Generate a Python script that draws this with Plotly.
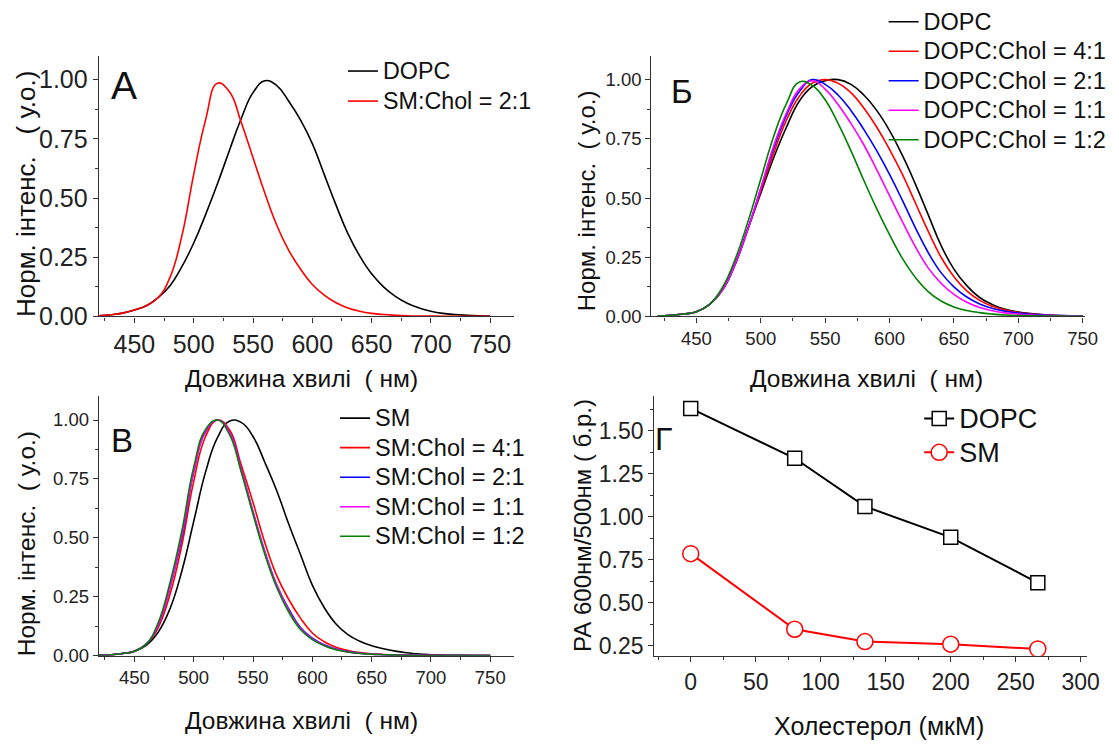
import plotly.graph_objects as go

W, H = 1119, 746
FONT = "Liberation Sans, Arial, sans-serif"

# ---------------- data ----------------
wl = [420, 430, 440, 450, 460, 470, 480, 490, 500, 510, 520, 530, 540, 550, 560, 570, 580,
      590, 600, 610, 620, 630, 640, 650, 660, 670, 680, 690, 700, 710, 720, 730, 740, 750]

# Panel A
a_dopc = [.003, .007, .014, .027, .045, .08, .13, .21, .31, .43, .56, .70, .835, .945, .995, .975,
          .91, .83, .73, .60, .47, .35, .255, .18, .125, .085, .056, .036, .022, .013, .008, .005, .003, .002]
a_sm21 = [.003, .007, .014, .027, .045, .08, .165, .34, .60, .83, .985, .95, .82, .67, .52, .385,
          .28, .20, .135, .09, .058, .036, .022, .013, .008, .005, .003, .002, .002, .001, .001, .001, .001, .001]

# Panel Б
b_dopc = [.002, .005, .01, .02, .05, .11, .22, .37, .52, .67, .80, .91, .97, .995, 1.0, .98,
          .935, .87, .785, .68, .56, .43, .30, .20, .13, .08, .05, .03, .019, .012, .007, .004, .003, .002]
b_41 = [.002, .005, .01, .02, .05, .11, .22, .37, .53, .69, .83, .93, .985, 1.0, .985, .945,
        .88, .80, .705, .60, .48, .36, .25, .168, .108, .068, .043, .027, .017, .011, .007, .004, .003, .002]
b_21 = [.002, .005, .01, .02, .05, .11, .22, .37, .54, .71, .85, .95, 1.0, .98, .935, .87,
        .79, .70, .60, .49, .375, .27, .185, .125, .082, .053, .034, .022, .014, .009, .006, .004, .003, .002]
b_11 = [.002, .005, .01, .02, .05, .11, .22, .37, .54, .72, .86, .96, .995, .96, .895, .815,
        .725, .62, .51, .40, .295, .205, .14, .093, .06, .038, .024, .015, .01, .006, .004, .003, .002, .001]
b_12 = [.002, .005, .01, .02, .05, .12, .24, .40, .58, .76, .90, .99, .975, .915, .815, .70,
        .575, .455, .345, .245, .165, .105, .065, .04, .025, .016, .01, .006, .004, .003, .002, .002, .001, .001]

# Panel В
v_sm = [.002, .005, .01, .02, .045, .10, .20, .36, .57, .78, .925, .995, .99, .93, .82, .70,
        .56, .43, .30, .205, .135, .09, .062, .043, .03, .02, .013, .008, .005, .003, .002, .002, .001, .001]
v_41 = [.002, .005, .01, .02, .05, .12, .26, .47, .74, .93, 1.0, .96, .81, .65, .48, .34,
        .24, .16, .097, .06, .037, .023, .014, .009, .006, .004, .003, .002, .002, .001, .001, .001, .001, .001]
v_21 = [.002, .005, .01, .02, .05, .13, .29, .50, .78, .95, 1.0, .95, .79, .61, .44, .30,
        .20, .12, .075, .047, .029, .018, .011, .007, .005, .003, .002, .002, .001, .001, .001, .001, .001, .001]
v_11 = [.002, .005, .01, .02, .05, .13, .29, .51, .78, .95, 1.0, .95, .79, .61, .44, .30,
        .195, .117, .072, .045, .028, .017, .011, .007, .005, .003, .002, .002, .001, .001, .001, .001, .001, .001]
v_12 = [.002, .005, .01, .02, .05, .14, .31, .53, .80, .96, 1.0, .94, .78, .60, .43, .29,
        .187, .112, .069, .043, .026, .016, .01, .007, .005, .003, .002, .002, .001, .001, .001, .001, .001, .001]

# Panel Г
chol = [0, 80, 134, 200, 267]
g_dopc = [1.63, 1.34, 1.06, 0.88, 0.615]
g_sm = [0.785, 0.345, 0.273, 0.258, 0.23]

# ---------------- helpers ----------------
def px_x(p):
    return p / W

def px_y(p):
    return 1 - p / H

fig = go.Figure()
RED, BLUE, MAG, GRN = "#ff0000", "#0000ff", "#ff00ff", "#008000"

def big(name, size):
    return '<span style="font-size:%spx">%s</span>' % (size, name)

def spec(x, y, color, name, xa, ya, leg, fs):
    fig.add_trace(go.Scatter(x=x, y=y, mode="lines", name=big(name, fs),
                             line=dict(color=color, width=1.6, shape="spline", smoothing=1.3),
                             xaxis=xa, yaxis=ya, legend=leg))

spec(wl, a_dopc, "black", "DOPC", "x", "y", "legend", 23.3)
spec(wl, a_sm21, RED, "SM:Chol = 2:1", "x", "y", "legend", 23.3)

spec(wl, b_dopc, "black", "DOPC", "x2", "y2", "legend2", 23.5)
spec(wl, b_41, RED, "DOPC:Chol = 4:1", "x2", "y2", "legend2", 23.5)
spec(wl, b_21, BLUE, "DOPC:Chol = 2:1", "x2", "y2", "legend2", 23.5)
spec(wl, b_11, MAG, "DOPC:Chol = 1:1", "x2", "y2", "legend2", 23.5)
spec(wl, b_12, GRN, "DOPC:Chol = 1:2", "x2", "y2", "legend2", 23.5)

spec(wl, v_sm, "black", "SM", "x3", "y3", "legend3", 23.5)
spec(wl, v_41, RED, "SM:Chol = 4:1", "x3", "y3", "legend3", 23.5)
spec(wl, v_21, BLUE, "SM:Chol = 2:1", "x3", "y3", "legend3", 23.5)
spec(wl, v_11, MAG, "SM:Chol = 1:1", "x3", "y3", "legend3", 23.5)
spec(wl, v_12, GRN, "SM:Chol = 1:2", "x3", "y3", "legend3", 23.5)

fig.add_trace(go.Scatter(x=chol, y=g_dopc, mode="lines+markers", name=big("DOPC", 27),
                         line=dict(color="black", width=2),
                         marker=dict(symbol="square", size=14, color="white", line=dict(color="black", width=1.5)),
                         xaxis="x4", yaxis="y4", legend="legend4"))
fig.add_trace(go.Scatter(x=chol, y=g_sm, mode="lines+markers", name=big("SM", 27),
                         line=dict(color=RED, width=2),
                         marker=dict(symbol="circle", size=16, color="white", line=dict(color=RED, width=1.5)),
                         xaxis="x4", yaxis="y4", legend="legend4"))

AXC = "#333333"

def xaxis(dom, rng, anchor, size, dtick, minor):
    return dict(domain=dom, range=rng, anchor=anchor, showline=True, linecolor=AXC, linewidth=1.3,
                ticks="outside", ticklen=5, tickwidth=1.2, tickcolor=AXC, dtick=dtick, tick0=0,
                showgrid=False, zeroline=False, tickfont=dict(size=size, color="#222", family=FONT),
                minor=dict(ticks="outside", ticklen=3, tickcolor=AXC, dtick=minor, tick0=0, showgrid=False))

def yaxis(dom, rng, anchor, size, tickvals):
    return dict(domain=dom, range=rng, anchor=anchor, showline=True, linecolor=AXC, linewidth=1.3,
                ticks="outside", ticklen=5, tickwidth=1.2, tickcolor=AXC, tickvals=tickvals, tickformat=".2f",
                showgrid=False, zeroline=False, tickfont=dict(size=size, color="#222", family=FONT),
                minor=dict(ticks="outside", ticklen=3, tickcolor=AXC, dtick=0.125, tick0=0, showgrid=False))

yt = [0, 0.25, 0.5, 0.75, 1.0]
gyt = [0.25, 0.5, 0.75, 1.0, 1.25, 1.5]

top_dom = [px_y(322.5), px_y(57)]
bot_dom = [px_y(668.4), px_y(404)]

fig.update_layout(
    width=W, height=H, margin=dict(l=0, r=0, t=0, b=0),
    paper_bgcolor="white", plot_bgcolor="white",
    font=dict(family=FONT, color="#111"),
    xaxis=xaxis([px_x(100), px_x(520)], [420, 770], "y", 25, 50, 25),
    yaxis=yaxis(top_dom, [0, 1.1], "x", 25, yt),
    xaxis2=xaxis([px_x(659), px_x(1098)], [415, 752], "y2", 18.5, 50, 25),
    yaxis2=yaxis(top_dom, [0, 1.1], "x2", 18.5, yt),
    xaxis3=xaxis([px_x(100), px_x(520)], [420, 770], "y3", 18.5, 50, 25),
    yaxis3=yaxis(bot_dom, [0, 1.1], "x3", 18.5, yt),
    xaxis4=xaxis([px_x(662), px_x(1100)], [-28, 305], "y4", 23, 50, 25),
    yaxis4=yaxis(bot_dom, [0.19, 1.70], "x4", 23, gyt),
    showlegend=True,
)

def leg(x, y, size):
    return dict(x=px_x(x), y=px_y(y), xanchor="left", yanchor="top", bgcolor="rgba(0,0,0,0)",
                font=dict(size=size, family=FONT, color="#111"), tracegroupgap=0, itemwidth=30)

fig.update_layout(legend=leg(347, 52, 20.8), legend2=leg(894, 2, 20.4), legend3=leg(339, 406, 20.4),
                  legend4=leg(930, 404, 23.8))

anns = [
    ("A", 125, 87, 39, 0), ("Б", 690, 93, 33, 0), ("В", 123, 449, 33, 0), ("Г", 671, 447, 32, 0),
    ("Довжина хвилі  ( нм)", 305, 386, 24.5, 0),
    ("Довжина хвилі  ( нм)", 877, 386, 24.5, 0),
    ("Довжина хвилі  ( нм)", 305, 734, 24.5, 0),
    ("Холестерол (мкМ)", 889, 740, 25, 0),
    ("Норм. інтенс.   ( у.о.)", 27, 198, 26, -90),
    ("Норм. інтенс.  ( у.о.)", 593, 205, 24, -90),
    ("Норм. інтенс.  ( у.о.)", 27, 554, 24.5, -90),
    ("РА 600нм/500нм ( б.р.)", 590, 536, 24, -90),
]
for t, x, y, s, ang in anns:
    fig.add_annotation(text=t, x=px_x(x), y=px_y(y), xref="paper", yref="paper", showarrow=False,
                       xanchor="center", yanchor="middle", textangle=ang,
                       font=dict(size=s, family=FONT, color="#111"))

fig.write_html("out.html")
